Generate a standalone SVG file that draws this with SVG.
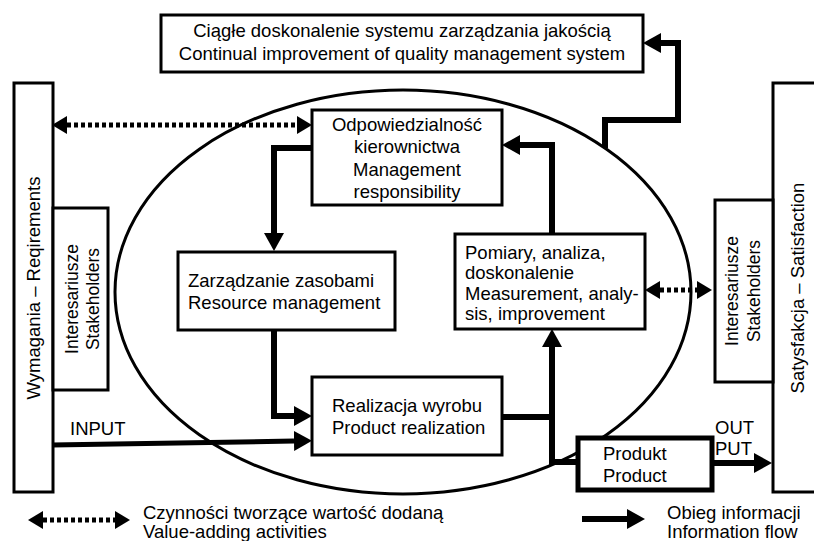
<svg xmlns="http://www.w3.org/2000/svg" width="814" height="541" viewBox="0 0 814 541">
<style>
text{font-family:"Liberation Sans",Arial,sans-serif;font-size:18.5px;fill:#000}
.box{fill:#fff;stroke:#000;stroke-width:3}
.pbox{fill:#fff;stroke:#000;stroke-width:5}
.flow{fill:none;stroke:#000;stroke-width:6;stroke-linejoin:miter}
.dot{fill:none;stroke:#000;stroke-width:5;stroke-dasharray:4 3}
.c{text-anchor:middle}
.v{font-size:17.5px}
</style>
<defs>
<marker id="ah" markerUnits="userSpaceOnUse" markerWidth="18" markerHeight="20" refX="0" refY="10" orient="auto"><path d="M0,0 L18,10 L0,20 z"/></marker>
<marker id="dh" markerUnits="userSpaceOnUse" markerWidth="16" markerHeight="18" refX="0" refY="9" orient="auto-start-reverse"><path d="M0,0 L15,9 L0,18 z"/></marker>
</defs>
<ellipse cx="403" cy="292" rx="288" ry="202" fill="none" stroke="#000" stroke-width="3"/>
<g id="top">
<rect class="box" x="161" y="15" width="482" height="57"/>
<text class="c" x="402" y="37">Ciągłe doskonalenie systemu zarządzania jakością</text>
<text class="c" x="402" y="60">Continual improvement of quality management system</text>
</g>
<g id="requirements">
<rect class="box" x="14" y="83" width="39" height="409"/>
<text class="c" transform="translate(40,288) rotate(-90)">Wymagania – Reqirements</text>
</g>
<g id="stakeholders-left">
<rect class="box" x="53" y="208" width="55" height="182"/>
<text class="c v" transform="translate(78,299) rotate(-90)">Interesariusze</text>
<text class="c v" transform="translate(99,299) rotate(-90)">Stakeholders</text>
</g>
<g id="satisfaction">
<rect class="box" x="773" y="83" width="60" height="409"/>
<text class="c" transform="translate(804,288) rotate(-90)">Satysfakcja – Satisfaction</text>
</g>
<g id="stakeholders-right">
<rect class="box" x="715" y="200" width="58" height="182"/>
<text class="c v" transform="translate(738,291) rotate(-90)">Interesariusze</text>
<text class="c v" transform="translate(760,291) rotate(-90)">Stakeholders</text>
</g>
<g id="management">
<rect class="box" x="312" y="110" width="190" height="95"/>
<text class="c" x="407" y="131">Odpowiedzialność</text>
<text class="c" x="407" y="153">kierownictwa</text>
<text class="c" x="407" y="176">Management</text>
<text class="c" x="407" y="198">responsibility</text>
</g>
<g id="resource">
<rect class="box" x="178" y="252" width="217" height="78"/>
<text x="188" y="287">Zarządzanie zasobami</text>
<text x="188" y="309">Resource management</text>
</g>
<g id="realization">
<rect class="box" x="312" y="377" width="190" height="78"/>
<text x="332" y="412">Realizacja wyrobu</text>
<text x="332" y="434">Product realization</text>
</g>
<g id="measurement">
<rect class="box" x="455" y="234" width="190" height="95"/>
<text x="465" y="259">Pomiary, analiza,</text>
<text x="465" y="279">doskonalenie</text>
<text x="465" y="300">Measurement, analy-</text>
<text x="465" y="320">sis, improvement</text>
</g>
<g id="product">
<rect class="pbox" x="578" y="438" width="134" height="52"/>
<text x="603" y="460">Produkt</text>
<text x="603" y="482">Product</text>
</g>
<g id="connectors">
<path class="dot" d="M67,125 H297" marker-start="url(#dh)" marker-end="url(#dh)"/>
<path class="dot" d="M660,290 H697" marker-start="url(#dh)" marker-end="url(#dh)"/>
<path class="flow" d="M312,148 H274 V233" marker-end="url(#ah)"/>
<path class="flow" d="M274,330 V416 H294" marker-end="url(#ah)"/>
<path class="flow" style="stroke-width:5" d="M52,445 L294,441" marker-end="url(#ah)"/>
<path class="flow" d="M502,417 H552 V347" marker-end="url(#ah)"/>
<path class="flow" d="M552,414 V462 H578"/>
<path class="flow" d="M552,234 V145 H520" marker-end="url(#ah)"/>
<path class="flow" d="M605,148 V120 H678 V43 H661" marker-end="url(#ah)"/>
<path class="flow" d="M712,463 H754" marker-end="url(#ah)"/>
<text x="70" y="435">INPUT</text>
<text x="715" y="434">OUT</text>
<text x="715" y="455">PUT</text>
</g>
<g id="legend">
<path class="dot" d="M43,520 H115" marker-start="url(#dh)" marker-end="url(#dh)"/>
<text x="143" y="519">Czynności tworzące wartość dodaną</text>
<text x="143" y="538">Value-adding activities</text>
<path class="flow" d="M582,519 H627" marker-end="url(#ah)"/>
<text x="667" y="519">Obieg informacji</text>
<text x="667" y="538">Information flow</text>
</g>
</svg>
